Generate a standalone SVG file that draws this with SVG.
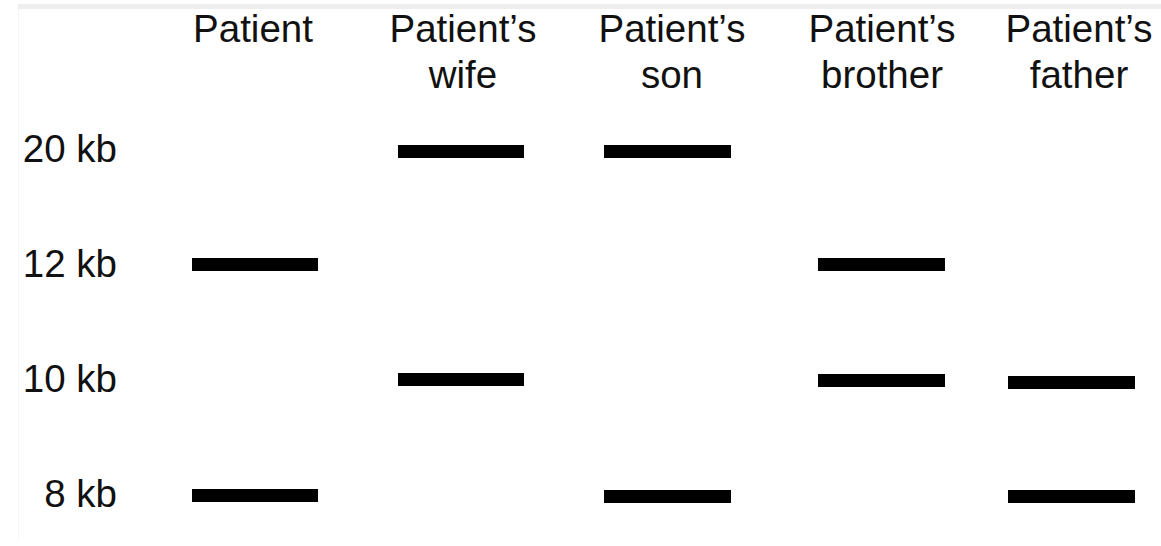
<svg xmlns="http://www.w3.org/2000/svg" width="1161" height="546" viewBox="0 0 1161 546">
<style>
.t{font-family:"Liberation Sans",Arial,sans-serif;font-size:38.5px;fill:#111}
.h{text-anchor:middle}
.r{text-anchor:end}
.band{fill:#000}
</style>
<rect x="0" y="0" width="1161" height="546" fill="#fff"/>
<rect x="18" y="4" width="1143" height="5" fill="#eeeeee"/>
<rect x="18" y="9" width="1" height="530" fill="#f6f6f6"/>
<g id="headers">
<g id="col-patient"><text class="t h" x="253" y="42">Patient</text></g>
<g id="col-wife"><text class="t h" x="463" y="42">Patient’s</text><text class="t h" x="463" y="88">wife</text></g>
<g id="col-son"><text class="t h" x="672" y="42">Patient’s</text><text class="t h" x="672" y="88">son</text></g>
<g id="col-brother"><text class="t h" x="882" y="42">Patient’s</text><text class="t h" x="882" y="88">brother</text></g>
<g id="col-father"><text class="t h" x="1079" y="42">Patient’s</text><text class="t h" x="1079" y="88">father</text></g>
</g>
<g id="sizes">
<g id="kb20"><text class="t r" x="117" y="162">20 kb</text></g>
<g id="kb12"><text class="t r" x="117" y="277">12 kb</text></g>
<g id="kb10"><text class="t r" x="117" y="392">10 kb</text></g>
<g id="kb8"><text class="t r" x="117" y="507">8 kb</text></g>
</g>
<g id="bands">
<rect class="band" x="398" y="145" width="126" height="13"/>
<rect class="band" x="604" y="145" width="127" height="13"/>
<rect class="band" x="192" y="258" width="126" height="13"/>
<rect class="band" x="818" y="258" width="127" height="13"/>
<rect class="band" x="398" y="373" width="126" height="13"/>
<rect class="band" x="818" y="374" width="127" height="13"/>
<rect class="band" x="1008" y="376" width="127" height="13"/>
<rect class="band" x="192" y="489" width="126" height="13"/>
<rect class="band" x="604" y="490" width="127" height="13"/>
<rect class="band" x="1008" y="490" width="127" height="13"/>
</g>
</svg>
